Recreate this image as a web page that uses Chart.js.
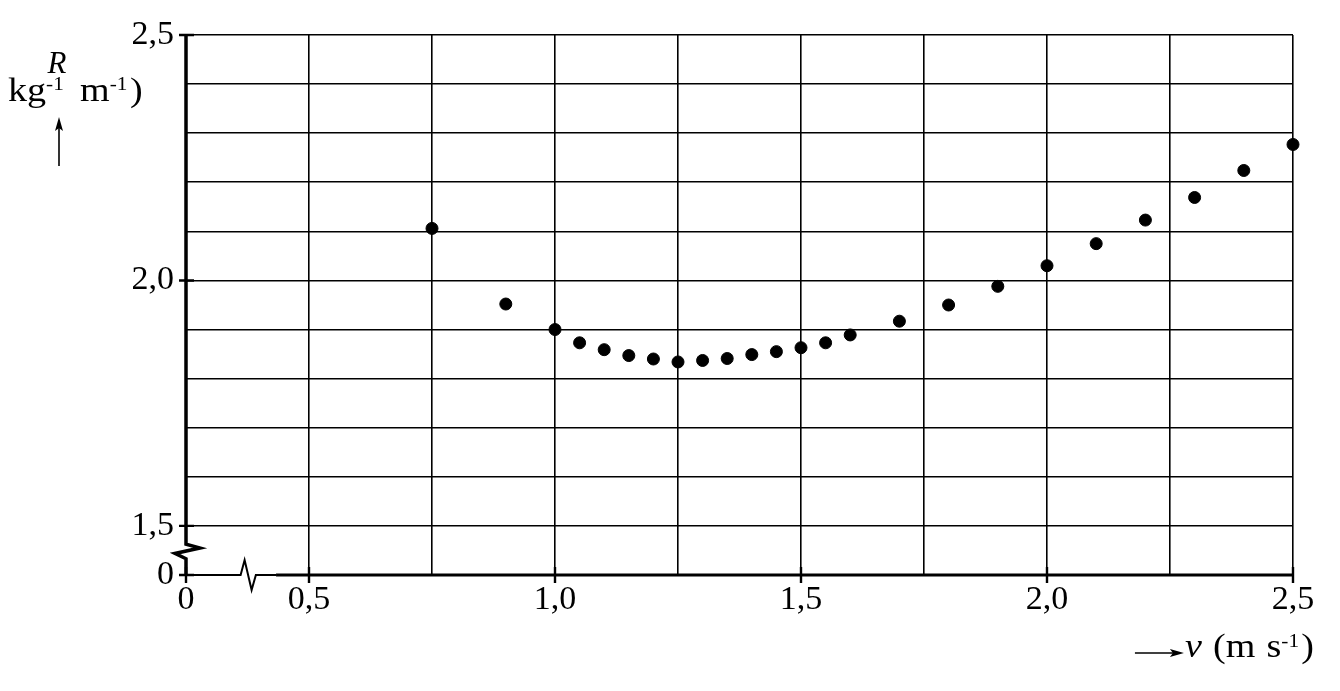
<!DOCTYPE html>
<html>
<head>
<meta charset="utf-8">
<script src="https://cdn.jsdelivr.net/npm/chart.js@4.4.1/dist/chart.umd.min.js"></script>
<style>
  html, body { margin: 0; padding: 0; background: #fff; }
  #wrap { width: 1340px; height: 691px; }
</style>
</head>
<body>
<div id="wrap"><canvas id="chart"></canvas></div>
<script>
// speed v (m s^-1) and R (kg^-1 m^-1)
const speeds = [0.75, 0.9, 1.0, 1.05, 1.1, 1.15, 1.2, 1.25, 1.3, 1.35, 1.4, 1.45,
  1.5, 1.55, 1.6, 1.7, 1.8, 1.9, 2.0, 2.1, 2.2, 2.3, 2.4, 2.5];
const rValues = [2.106, 1.952, 1.900, 1.873, 1.859, 1.847, 1.840, 1.834, 1.837, 1.841, 1.849, 1.855,
  1.863, 1.873, 1.889, 1.917, 1.950, 1.988, 2.030, 2.075, 2.123, 2.169, 2.224, 2.277];

// axis ticks (the first value of each axis sits behind the break and is labelled 0)
const xTicks = [0.25, 0.5, 0.75, 1.0, 1.25, 1.5, 1.75, 2.0, 2.25, 2.5];
const xTickText = ['0', '0,5', '', '1,0', '', '1,5', '', '2,0', '', '2,5'];
const yTicks = [1.4, 1.5, 1.6, 1.7, 1.8, 1.9, 2.0, 2.1, 2.2, 2.3, 2.4, 2.5];
const yTickText = ['0', '1,5', '', '', '', '', '2,0', '', '', '', '', '2,5'];

const SERIF = "'Liberation Serif', 'Times New Roman', serif";
const STRETCH = 1.12; // title lettering is a bit wider than Liberation Serif

// draw text runs (normal / superscript) from x on a baseline
function drawRuns(ctx, runs, x, y) {
  ctx.save();
  ctx.translate(x, y);
  ctx.scale(STRETCH, 1);
  let cx = 0;
  runs.forEach(r => {
    ctx.font = r.font;
    ctx.fillText(r.text, cx, -(r.rise || 0));
    cx += ctx.measureText(r.text).width + (r.gap || 0);
  });
  ctx.restore();
}
function runsWidth(ctx, runs) {
  let w = 0;
  runs.forEach(r => { ctx.font = r.font; w += ctx.measureText(r.text).width + (r.gap || 0); });
  return w * STRETCH;
}

// axes with breaks, tick marks and axis titles
const axesPlugin = {
  id: 'axesPlugin',
  beforeDatasetsDraw(chart) {
    const ctx = chart.ctx;
    const xs = chart.scales.x, ys = chart.scales.y;
    const x0 = xs.getPixelForValue(xTicks[0]);
    const y0 = ys.getPixelForValue(yTicks[0]);
    const top = ys.getPixelForValue(yTicks[yTicks.length - 1]);
    const right = xs.getPixelForValue(xTicks[xTicks.length - 1]);
    ctx.save();
    ctx.strokeStyle = '#000';
    ctx.lineCap = 'butt';
    ctx.lineJoin = 'miter';

    // y axis with zigzag break
    const yb1 = ys.getPixelForValue(1.463), yb2 = ys.getPixelForValue(1.433);
    const ybm = (yb1 + yb2) / 2;
    ctx.lineWidth = 3.5;
    ctx.beginPath();
    ctx.moveTo(x0, top - 1);
    ctx.lineTo(x0, yb1);
    ctx.lineTo(x0 + 14, yb1 + 4);
    ctx.lineTo(x0 - 11, ybm + 2);
    ctx.lineTo(x0, yb2);
    ctx.lineTo(x0, y0);
    ctx.stroke();

    // x axis with zigzag break
    const xb1 = xs.getPixelForValue(0.361), xb2 = xs.getPixelForValue(0.392);
    const xThick = xs.getPixelForValue(0.433);
    ctx.lineWidth = 2;
    ctx.beginPath();
    ctx.moveTo(x0, y0);
    ctx.lineTo(xb1, y0);
    ctx.lineTo(xb1 + 4, y0 - 15);
    ctx.lineTo(xb1 + 11, y0 + 15);
    ctx.lineTo(xb2, y0);
    ctx.lineTo(xThick, y0);
    ctx.stroke();
    ctx.lineWidth = 3.2;
    ctx.beginPath();
    ctx.moveTo(xThick, y0);
    ctx.lineTo(right + 1, y0);
    ctx.stroke();

    // tick marks at labelled values
    ctx.lineWidth = 2.4;
    ctx.beginPath();
    yTicks.forEach((v, i) => {
      if (!yTickText[i]) return;
      const p = ys.getPixelForValue(v);
      ctx.moveTo(x0 - 7, p);
      ctx.lineTo(x0 + 8, p);
    });
    xTicks.forEach((v, i) => {
      if (!xTickText[i]) return;
      const p = xs.getPixelForValue(v);
      ctx.moveTo(p, y0 - 8);
      ctx.lineTo(p, y0 + 8);
    });
    ctx.stroke();

    // y axis title
    ctx.fillStyle = '#000';
    ctx.textBaseline = 'alphabetic';
    ctx.textAlign = 'left';
    ctx.font = 'italic 31px ' + SERIF;
    const rw = ctx.measureText('R').width;
    ctx.fillText('R', 57 - rw / 2, 73);
    const big = '34px ' + SERIF, small = '19px ' + SERIF;
    drawRuns(ctx, [
      { text: 'kg', font: big },
      { text: '-1', font: small, rise: 11, gap: 14.5 },
      { text: 'm', font: big },
      { text: '-1', font: small, rise: 11, gap: 2.4 },
      { text: ')', font: big }
    ], 8, 101);
    // up arrow
    ctx.lineWidth = 1.6;
    ctx.beginPath();
    ctx.moveTo(59, 166);
    ctx.lineTo(59, 125);
    ctx.stroke();
    ctx.beginPath();
    ctx.moveTo(59, 117);
    ctx.lineTo(63, 131);
    ctx.lineTo(59, 128);
    ctx.lineTo(55, 131);
    ctx.closePath();
    ctx.fill();

    // x axis title
    const xRuns = [
      { text: 'v', font: 'italic 34px ' + SERIF, gap: 10 },
      { text: '(m', font: big, gap: 10 },
      { text: 's', font: big },
      { text: '-1', font: small, rise: 10, gap: 2 },
      { text: ')', font: big }
    ];
    const tw = runsWidth(ctx, xRuns);
    const tx = 1314 - tw;
    drawRuns(ctx, xRuns, tx, 657);
    ctx.lineWidth = 1.6;
    ctx.beginPath();
    ctx.moveTo(tx - 50, 653);
    ctx.lineTo(tx - 8, 653);
    ctx.stroke();
    ctx.beginPath();
    ctx.moveTo(tx - 1, 653);
    ctx.lineTo(tx - 15, 657);
    ctx.lineTo(tx - 12, 653);
    ctx.lineTo(tx - 15, 649);
    ctx.closePath();
    ctx.fill();
    ctx.restore();
  }
};

const ctxChart = document.getElementById('chart').getContext('2d');

const chart = new Chart(ctxChart, {
  type: 'scatter',
  data: {
    datasets: [{
      label: 'R',
      data: speeds.map((v, i) => ({ x: v, y: rValues[i] })),
      backgroundColor: '#000',
      borderColor: '#000',
      pointRadius: 6,
      pointHoverRadius: 6,
      clip: false
    }]
  },
  options: {
    responsive: true,
    maintainAspectRatio: false,
    animation: false,
    layout: { padding: { top: 35, right: 47, left: 0, bottom: 0 } },
    plugins: {
      legend: { display: false },
      tooltip: { enabled: false },
      title: { display: false }
    },
    scales: {
      x: {
        type: 'linear',
        min: xTicks[0],
        max: xTicks[xTicks.length - 1],
        afterBuildTicks: axis => { axis.ticks = xTicks.map(v => ({ value: v })); },
        afterFit: scale => { scale.height = 116; },
        border: { display: false },
        grid: {
          color: c => (c.index === 0 ? 'rgba(0,0,0,0)' : '#000'),
          lineWidth: 1.6,
          drawTicks: false
        },
        ticks: {
          autoSkip: false,
          maxRotation: 0,
          padding: 5,
          color: '#000',
          font: { family: SERIF, size: 34 },
          callback: (v, i) => xTickText[i]
        }
      },
      y: {
        type: 'linear',
        min: yTicks[0],
        max: yTicks[yTicks.length - 1],
        afterBuildTicks: axis => { axis.ticks = yTicks.map(v => ({ value: v })); },
        afterFit: scale => { scale.width = 186; },
        border: { display: false },
        grid: {
          color: c => (c.index === 0 ? 'rgba(0,0,0,0)' : '#000'),
          lineWidth: 1.6,
          drawTicks: false
        },
        ticks: {
          autoSkip: false,
          padding: 12,
          color: '#000',
          font: { family: SERIF, size: 34 },
          callback: (v, i) => yTickText[i]
        }
      }
    }
  },
  plugins: [axesPlugin]
});
</script>
</body>
</html>
